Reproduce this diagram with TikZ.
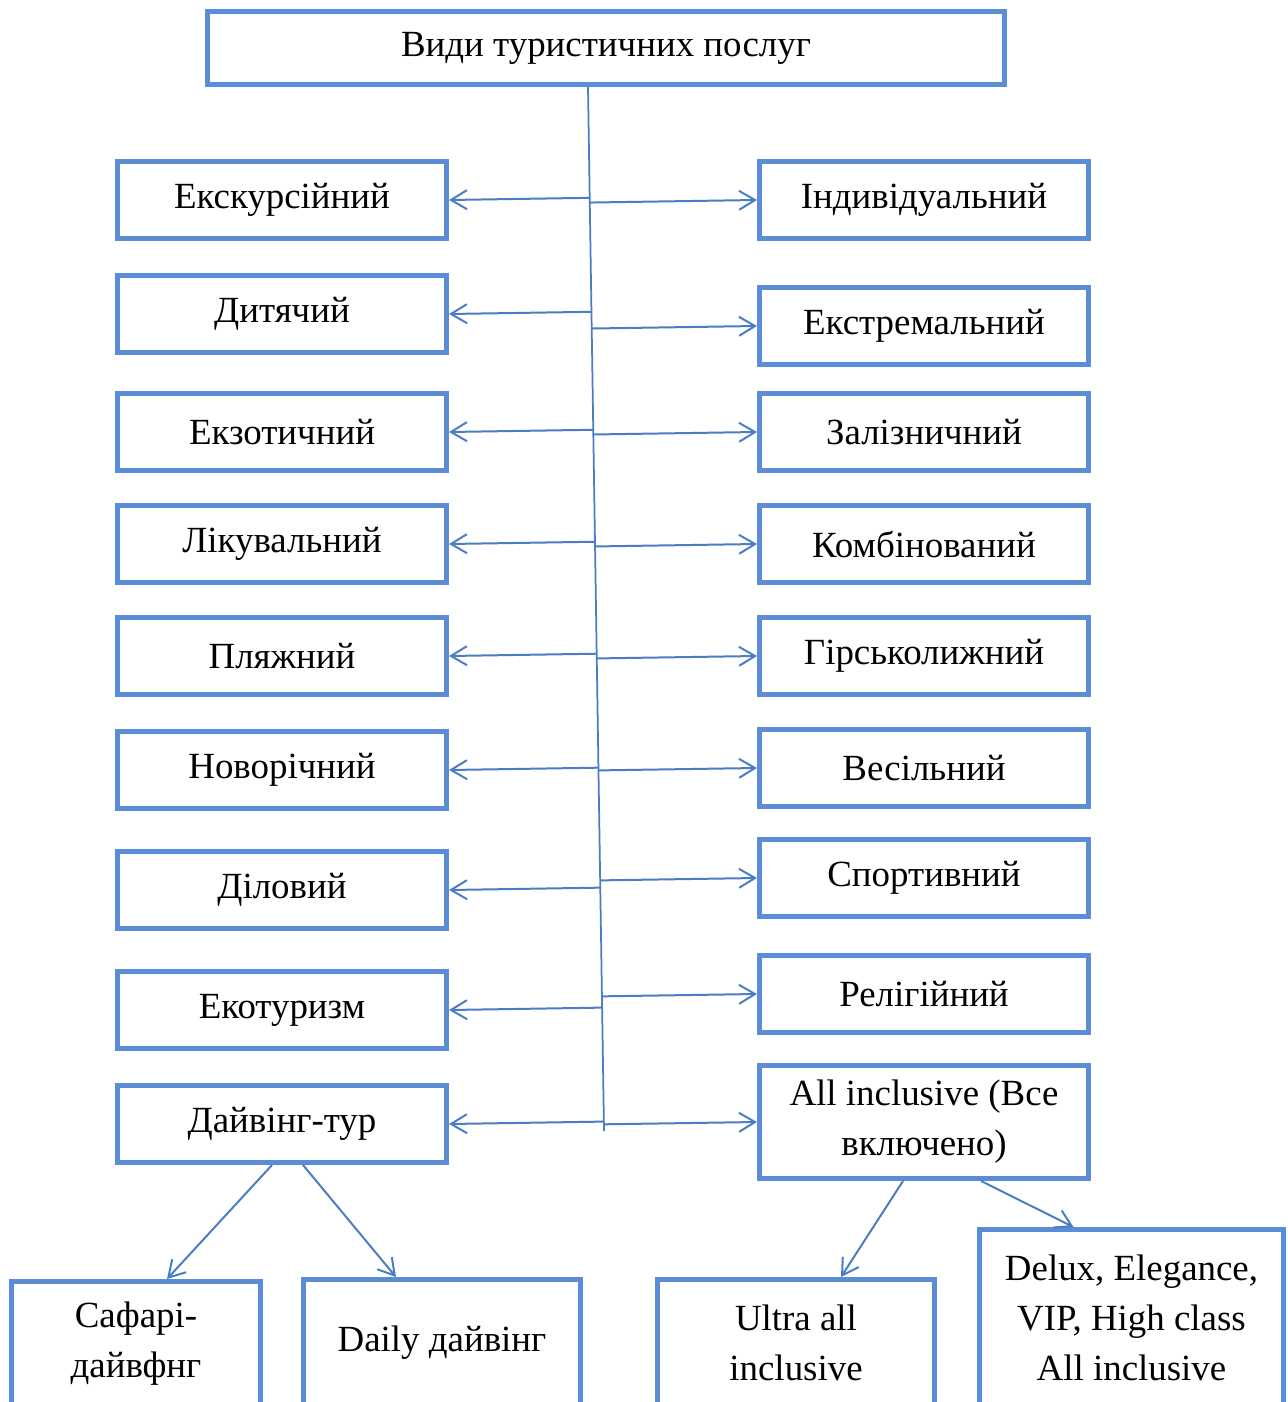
\documentclass[tikz,border=0pt]{standalone}
\usepackage{fontspec}
\setmainfont{Liberation Serif}
\usepackage{tikz}
\usetikzlibrary{arrows.meta, positioning, calc}

\definecolor{boxblue}{HTML}{5B8DD6}
\definecolor{linkblue}{HTML}{4A7DC4}

\begin{document}
\begin{tikzpicture}[
  font=\fontsize{21}{28.5}\selectfont,
  kind/.style={
    draw=boxblue, line width=0.1cm, fill=white, inner sep=0pt,
    align=center, minimum width=6.58cm, minimum height=1.54cm
  },
  link/.style={
    draw=linkblue, line width=0.04cm,
    -{Straight Barb[length=0.32cm, width=0.38cm, line width=0.04cm]}
  }
]
  \useasboundingbox (0,0) rectangle (25.76,-28.04);

  \node[kind, minimum width=15.94cm, minimum height=1.46cm] (root) at (12.12,-0.96) {Види туристичних послуг};

  % left column
  \node[kind] (l1) at (5.64,-4.0) {Екскурсійний};
  \node[kind, below=0.64cm of l1] (l2) {Дитячий};
  \node[kind, below=0.72cm of l2] (l3) {Екзотичний};
  \node[kind, below=0.60cm of l3] (l4) {Лікувальний};
  \node[kind, below=0.60cm of l4] (l5) {Пляжний};
  \node[kind, below=0.64cm of l5] (l6) {Новорічний};
  \node[kind, below=0.76cm of l6] (l7) {Діловий};
  \node[kind, below=0.76cm of l7] (l8) {Екотуризм};
  \node[kind, below=0.64cm of l8] (l9) {Дайвінг-тур};

  % right column
  \node[kind] (r1) at (18.48,-4.0) {Індивідуальний};
  \node[kind, below=0.88cm of r1] (r2) {Екстремальний};
  \node[kind, below=0.48cm of r2] (r3) {Залізничний};
  \node[kind, below=0.60cm of r3] (r4) {Комбінований};
  \node[kind, below=0.60cm of r4] (r5) {Гірськолижний};
  \node[kind, below=0.60cm of r5] (r6) {Весільний};
  \node[kind, below=0.56cm of r6] (r7) {Спортивний};
  \node[kind, below=0.68cm of r7] (r8) {Релігійний};
  \node[kind, below=0.56cm of r8, minimum height=2.26cm] (r9) {All inclusive (Все\\включено)};

  % bottom row
  \node[kind, minimum width=4.98cm, minimum height=2.5cm] (safari) at (2.72,-26.88) {Сафарі-\\дайвфнг};
  \node[kind, minimum width=5.54cm, minimum height=2.54cm] (daily) at (8.84,-26.86) {Daily дайвінг};
  \node[kind, minimum width=5.54cm, minimum height=2.54cm] (ultra) at (15.92,-26.86) {Ultra all\\inclusive};
  \node[kind, minimum width=6.08cm, minimum height=3.54cm] (delux) at (22.63,-26.36) {Delux, Elegance,\\VIP, High class\\All inclusive};

  % spine
  \coordinate (s0) at (11.76,-1.74);
  \coordinate (s1) at (12.08,-22.62);
  \draw[linkblue, line width=0.035cm] (s0) -- (s1);

  \foreach \i in {1,...,9} {
    \draw[link] ($(s0)!(l\i.east)!(s1)$) -- (l\i.east);
    \draw[link] ($(s0)!(r\i.west)!(s1)$) -- (r\i.west);
  }

  \draw[link] ([xshift=-0.2cm]l9.south) -- ([xshift=0.62cm]safari.north);
  \draw[link] ([xshift=0.42cm]l9.south) -- ([xshift=-0.92cm]daily.north);
  \draw[link] ([xshift=-0.42cm]r9.south) -- ([xshift=0.9cm]ultra.north);
  \draw[link] ([xshift=1.14cm]r9.south) -- ([xshift=-1.16cm]delux.north);
\end{tikzpicture}
\end{document}
